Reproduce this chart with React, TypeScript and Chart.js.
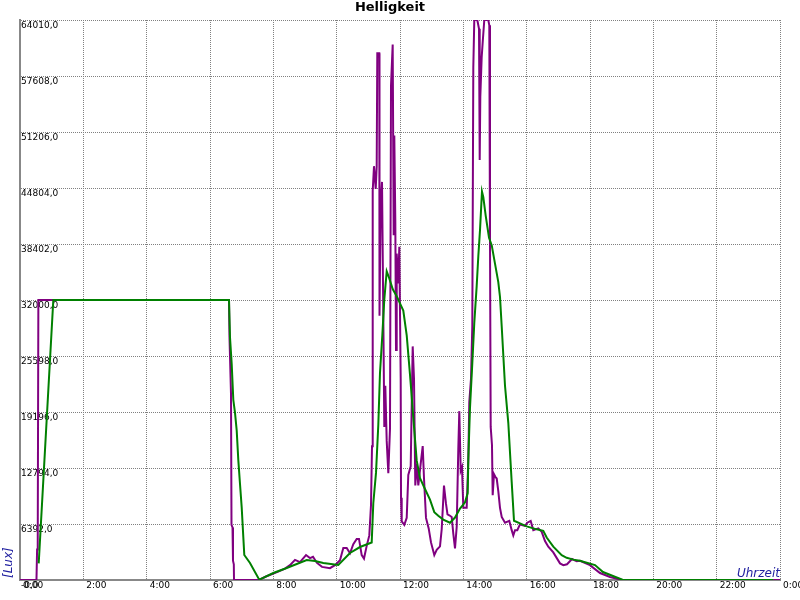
import React, { useEffect, useRef } from 'react';
import { Chart, registerables } from 'chart.js';

Chart.register(...registerables);

const TITLE = 'Helligkeit';
const X_TITLE = 'Uhrzeit';
const Y_TITLE = '[Lux]';

const yTickValues = [0, 6392, 12794, 19196, 25598, 32000, 38402, 44804, 51206, 57608, 64010];
const xTickHours = [0, 2, 4, 6, 8, 10, 12, 14, 16, 18, 20, 22, 24];

// Raw measurement (purple)
const purpleHours = [
  0, 0.52, 0.54, 0.56, 0.58, 6.6, 6.616, 6.663, 6.679, 6.711, 6.726, 6.752, 6.758,
  7.547, 7.768, 8.116, 8.368, 8.526, 8.684, 8.842, 9.032, 9.158, 9.253, 9.379, 9.537,
  9.789, 9.947, 10.105, 10.21, 10.317, 10.421, 10.525, 10.633, 10.705, 10.791, 10.863,
  10.948, 11.031, 11.084, 11.116, 11.138, 11.179, 11.233, 11.264, 11.283, 11.346, 11.353,
  11.391, 11.432, 11.473, 11.504, 11.536, 11.58, 11.631, 11.684, 11.716, 11.769, 11.801,
  11.82, 11.852, 11.874, 11.896, 11.946, 11.978, 12.022, 12.032, 12.054, 12.136, 12.212,
  12.262, 12.338, 12.401, 12.442, 12.483, 12.527, 12.578, 12.654, 12.717, 12.758, 12.821,
  12.906, 12.979, 13.083, 13.159, 13.263, 13.317, 13.389, 13.453, 13.5, 13.557, 13.633,
  13.683, 13.737, 13.791, 13.841, 13.873, 13.917, 13.958, 13.999, 14.106, 14.157, 14.188,
  14.242, 14.283, 14.315, 14.346, 14.441, 14.495, 14.517, 14.536, 14.58, 14.612, 14.662,
  14.788, 14.82, 14.842, 14.864, 14.905, 14.927, 14.968, 15.01, 15.054, 15.104, 15.158,
  15.212, 15.316, 15.452, 15.527, 15.578, 15.632, 15.704, 15.789, 15.947, 16.02, 16.127,
  16.21, 16.367, 16.475, 16.579, 16.683, 16.841, 17.053, 17.157, 17.274, 17.432, 17.58,
  17.684, 18.0, 18.316, 18.632, 19.011, 24
];
const purpleLux = [
  0, 0, 3500, 4200, 32000, 32000, 27700, 21300, 6300, 6000, 2200, 1800, 0,
  0, 400, 900, 1300, 1700, 2300, 2050, 2850, 2500, 2650, 1950, 1500,
  1350, 1700, 2250, 3650, 3650, 3050, 4100, 4700, 4700, 2850, 2450,
  3900, 5100, 8550, 15300, 44500, 47300, 44700, 47300, 60200, 60200, 30200,
  43200, 45500, 30200, 17500, 22200, 15900, 12200, 17300, 56500, 61200, 39400,
  50800, 41000, 26300, 37300, 33900, 38100, 23000, 9400, 6700, 6300, 7100,
  12000, 13000, 26700, 23000, 10800, 13300, 10800, 13300, 15300, 11600, 7100,
  5900, 4300, 2850, 3450, 3850, 5800, 10800, 8700, 7500, 7400, 7200,
  5300, 3600, 6100, 15000, 19300, 12500, 12900, 8250, 8250, 13700, 20300,
  23000, 29000, 58600, 64010, 64010, 63000, 48000, 55200, 59800, 61500, 64010,
  64010, 63400, 38700, 17500, 15400, 9700, 12100, 11800, 11600, 10150, 8250,
  7200, 6550, 6750, 5700, 5100, 5700, 5700, 6350, 6200, 6550, 6750,
  5700, 5900, 5500, 4450, 3800, 3150, 1900, 1700, 1800, 2400, 2150,
  2200, 1700, 800, 340, 0, 0
];

// Smoothed value (green)
const greenHours = [
  0.591, 1.052, 6.6, 6.632, 6.685, 6.736, 6.79, 6.843, 6.894, 6.947, 7.001, 7.052, 7.083,
  7.263, 7.525, 7.563, 7.999, 8.422, 9.054, 9.316, 9.578, 10.052, 10.421, 10.737, 11.106,
  11.157, 11.242, 11.315, 11.368, 11.441, 11.504, 11.58, 11.662, 11.769, 11.896, 12.0,
  12.104, 12.212, 12.316, 12.42, 12.527, 12.632, 12.789, 12.947, 13.083, 13.209, 13.367,
  13.579, 13.737, 13.895, 14.053, 14.138, 14.157, 14.21, 14.283, 14.346, 14.422, 14.473,
  14.526, 14.589, 14.631, 14.706, 14.811, 14.896, 15.0, 15.104, 15.158, 15.212, 15.316,
  15.42, 15.527, 15.6, 15.789, 16.001, 16.317, 16.525, 16.632, 16.841, 17.106, 17.264,
  17.473, 17.684, 18.158, 18.41, 18.726, 19.042, 23.779
];
const greenLux = [
  1900, 32000, 32000, 27700, 24700, 20600, 19100, 17100, 13700, 11000, 8300, 4900, 2860,
  1950, 230, 50, 800, 1370, 2290, 2170, 1940, 1710, 3090, 3770, 4280,
  8770, 12240, 17750, 23660, 27950, 32030, 35290, 34480, 33250, 32440, 31620,
  30800, 27950, 23460, 18560, 13670, 11630, 10400, 9180, 7750, 7340, 6900,
  6550, 7140, 8160, 8880, 9940, 13740, 19670, 24740, 29390, 33620, 37000,
  39960, 44400, 43770, 41660, 39120, 38270, 36160, 34040, 32350, 28970, 22200,
  17970, 11210, 6770, 6470, 6130, 5790, 5620, 4860, 3810, 2830, 2540,
  2330, 2200, 1710, 910, 460, 0, 0
];

const FONT = '"DejaVu Sans", sans-serif';

export default function App() {
  const ref = useRef<HTMLCanvasElement>(null);

  useEffect(() => {
    document.body.style.margin = '0';
    const canvas = ref.current;
    if (!canvas) return;

    const axisTitles = {
      id: 'axisTitles',
      afterDraw(chart: any) {
        const { ctx, chartArea } = chart;
        ctx.save();
        ctx.fillStyle = '#2020a0';
        ctx.font = `italic 12px ${FONT}`;
        ctx.textAlign = 'right';
        ctx.textBaseline = 'alphabetic';
        ctx.fillText(X_TITLE, chartArea.right, chartArea.bottom - 3);
        ctx.translate(9, chartArea.bottom - 2);
        ctx.rotate(-Math.PI / 2);
        ctx.textAlign = 'left';
        ctx.textBaseline = 'middle';
        ctx.fillText(Y_TITLE, 0, 0);
        ctx.restore();
      },
    };

    const chart = new Chart(canvas, {
      type: 'line',
      data: {
        datasets: [
          {
            label: 'Mittelwert',
            data: greenHours.map((h, i) => ({ x: h, y: greenLux[i] })),
            borderColor: '#008000',
            backgroundColor: '#008000',
            borderWidth: 2,
            pointRadius: 0,
            tension: 0,
            fill: false,
          },
          {
            label: 'Helligkeit',
            data: purpleHours.map((h, i) => ({ x: h, y: purpleLux[i] })),
            borderColor: '#800080',
            backgroundColor: '#800080',
            borderWidth: 2,
            pointRadius: 0,
            tension: 0,
            fill: false,
          },
        ],
      },
      options: {
        responsive: false,
        maintainAspectRatio: false,
        animation: false,
        layout: { padding: { left: 0, right: 20, top: 0, bottom: 0 } },
        plugins: {
          legend: { display: false },
          tooltip: { enabled: false },
          title: {
            display: true,
            text: TITLE,
            color: '#000',
            font: { family: FONT, size: 13, weight: 'bold', lineHeight: '16px' },
            padding: { top: 0, bottom: 4 },
          },
        },
        scales: {
          x: {
            type: 'linear',
            min: 0,
            max: 24,
            afterBuildTicks: (scale: any) => {
              scale.ticks = xTickHours.map((v) => ({ value: v }));
            },
            afterFit: (scale: any) => {
              scale.height = 20;
              scale.paddingLeft = 0;
              scale.paddingRight = 0;
            },
            ticks: {
              align: 'start',
              labelOffset: 3,
              padding: 0,
              maxRotation: 0,
              autoSkip: false,
              color: '#000',
              font: { family: FONT, size: 9 },
              callback: (v: any) => `${Number(v) % 24}:00`,
            },
            grid: { color: '#808080', lineWidth: 1, drawTicks: false },
            border: { display: true, color: '#888888', width: 2, dash: [1, 1] },
          },
          y: {
            type: 'linear',
            min: 0,
            max: 64010,
            afterBuildTicks: (scale: any) => {
              scale.ticks = yTickValues.map((v) => ({ value: v }));
            },
            afterFit: (scale: any) => {
              scale.width = 20;
              scale.paddingTop = 0;
              scale.paddingBottom = 0;
            },
            ticks: {
              mirror: true,
              padding: 1,
              labelOffset: 6,
              autoSkip: false,
              color: '#000',
              font: { family: FONT, size: 9 },
              callback: (v: any) => (Number(v) === 0 ? '-0,0' : Number(v).toFixed(1).replace('.', ',')),
            },
            grid: { color: '#808080', lineWidth: 1, drawTicks: false },
            border: { display: true, color: '#888888', width: 2, dash: [1, 1] },
          },
        },
      },
      plugins: [axisTitles],
    });

    return () => chart.destroy();
  }, []);

  return (
    <div style={{ position: 'fixed', left: 0, top: 0, width: 800, height: 600, background: '#fff' }}>
      <canvas ref={ref} width={800} height={600} style={{ display: 'block' }} />
    </div>
  );
}
